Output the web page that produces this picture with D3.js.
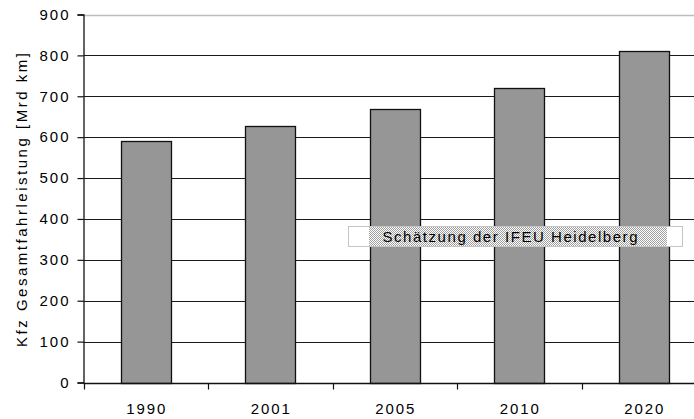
<!DOCTYPE html>
<html>
<head>
<meta charset="utf-8">
<script src="https://cdn.jsdelivr.net/npm/d3@7"></script>
<style>
  html, body { margin: 0; padding: 0; background: #fff; }
  svg { display: block; }
  text { font-family: "Liberation Sans", Arial, sans-serif; fill: #000; }
</style>
</head>
<body>
<script>
// Kfz-Gesamtfahrleistung in Deutschland, Mrd km
const years = ["1990", "2001", "2005", "2010", "2020"];
const mileage = [590, 628, 670, 720, 810];
const yTicks = [0, 100, 200, 300, 400, 500, 600, 700, 800, 900];
const yTitle = "Kfz Gesamtfahrleistung [Mrd km]";
const note = "Schätzung der IFEU Heidelberg";

const W = 694, H = 419;
const svg = d3.select("body").append("svg")
  .attr("width", W).attr("height", H);

const defs = svg.append("defs");
const pat = defs.append("pattern")
  .attr("id", "stipple").attr("patternUnits", "userSpaceOnUse")
  .attr("width", 2).attr("height", 2);
pat.append("rect").attr("width", 2).attr("height", 2).attr("fill", "#fff");
pat.append("rect").attr("width", 1).attr("height", 1).attr("fill", "#a0a0a0");
pat.append("rect").attr("x", 1).attr("y", 1).attr("width", 1).attr("height", 1).attr("fill", "#a0a0a0");

const x0 = 83.5;
const x = d3.scaleBand().domain(years).range([x0, x0 + 5 * 124.5])
  .paddingInner(0.6).paddingOuter(0.3);
const xCat = d3.scaleBand().domain(years).range([x0, x0 + 5 * 124.5]).padding(0);
const y = d3.scaleLinear().domain([0, 900]).range([382.5, 14.5]);

// gridlines
svg.append("g").selectAll("line")
  .data(yTicks.filter(d => d > 0))
  .join("line")
  .attr("x1", x0).attr("x2", W)
  .attr("y1", d => Math.round(y(d)) + 0.5).attr("y2", d => Math.round(y(d)) + 0.5)
  .attr("stroke", d => d === 900 ? "#bdbdbd" : "#1a1a1a")
  .attr("stroke-width", d => d === 900 ? 1.5 : 1.2);

// bars
svg.append("g").selectAll("rect")
  .data(years.map((k, i) => ({ k, v: mileage[i] })))
  .join("rect")
  .attr("x", d => Math.round(x(d.k)) + 0.5)
  .attr("y", d => Math.round(y(d.v)) + 0.5)
  .attr("width", Math.round(x.bandwidth()))
  .attr("height", d => Math.round(y(0)) - Math.round(y(d.v)))
  .attr("fill", "#969696")
  .attr("stroke", "#111")
  .attr("stroke-width", 1.3);

// y axis
const yAxis = svg.append("g").attr("transform", `translate(${x0},0)`)
  .call(d3.axisLeft(y).tickValues(yTicks).tickSize(6).tickPadding(9));
yAxis.select(".domain").attr("stroke", "#111").attr("stroke-width", 1.3);
yAxis.selectAll(".tick line").attr("stroke", "#111").attr("stroke-width", 1.2);
yAxis.selectAll(".tick text")
  .attr("font-size", 15)
  .attr("font-family", "'Liberation Sans', Arial, sans-serif")
  .attr("fill", "#111")
  .attr("textLength", d => String(d).length * 10 - 1)
  .attr("lengthAdjust", "spacing");

// x axis
const xAxis = svg.append("g").attr("transform", `translate(0,${Math.round(y(0)) + 0.5})`);
xAxis.append("line").attr("x1", x0).attr("x2", W).attr("stroke", "#111").attr("stroke-width", 1.3);
xAxis.selectAll("line.tk")
  .data(years)
  .join("line").attr("class", "tk")
  .attr("x1", d => Math.round(xCat(d)) + 0.5).attr("x2", d => Math.round(xCat(d)) + 0.5)
  .attr("y1", 0).attr("y2", 6)
  .attr("stroke", "#111").attr("stroke-width", 1.2);
xAxis.selectAll("text")
  .data(years)
  .join("text")
  .attr("x", d => x(d) + x.bandwidth() / 2)
  .attr("y", 30)
  .attr("text-anchor", "middle")
  .attr("font-size", 15)
  .attr("fill", "#111")
  .attr("textLength", 39)
  .attr("lengthAdjust", "spacing")
  .text(d => d);

// axis title
svg.append("text")
  .attr("transform", "translate(27,200) rotate(-90)")
  .attr("text-anchor", "middle")
  .attr("font-size", 15)
  .attr("fill", "#111")
  .attr("textLength", 294)
  .attr("lengthAdjust", "spacing")
  .text(yTitle);

// note box
const box = svg.append("g");
box.append("rect")
  .attr("x", 348.5).attr("y", 226.5).attr("width", 334).attr("height", 20)
  .attr("fill", "#fff").attr("stroke", "#c4c4c4").attr("stroke-width", 1);
box.append("rect")
  .attr("x", 369).attr("y", 227).attr("width", 298).attr("height", 19)
  .attr("fill", "url(#stipple)");
box.append("text")
  .attr("x", 510).attr("y", 241.5)
  .attr("text-anchor", "middle")
  .attr("font-size", 15)
  .attr("fill", "#111")
  .attr("textLength", 255)
  .attr("lengthAdjust", "spacing")
  .text(note);
</script>
</body>
</html>
